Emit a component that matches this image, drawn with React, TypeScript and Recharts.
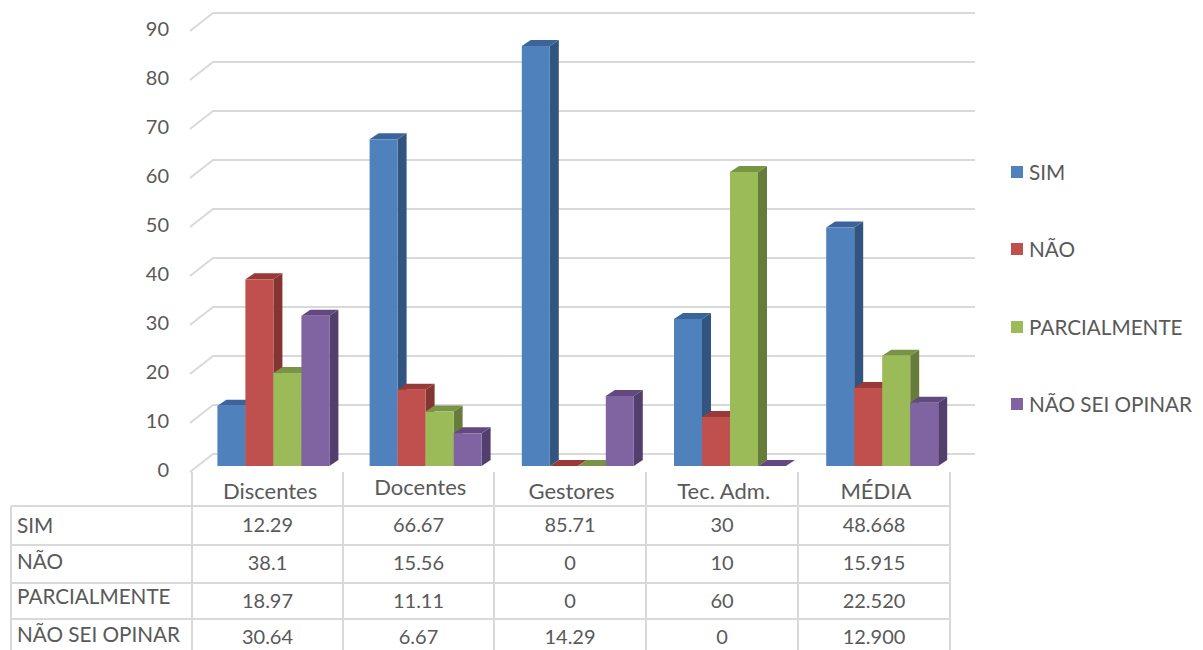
import React from "react";
import { BarChart, Bar, XAxis, YAxis, CartesianGrid, Legend } from "recharts";

const categories = ["Discentes", "Docentes", "Gestores", "Tec. Adm.", "MÉDIA"];
const simLabels = ["12.29", "66.67", "85.71", "30", "48.668"];
const naoLabels = ["38.1", "15.56", "0", "10", "15.915"];
const parcialLabels = ["18.97", "11.11", "0", "60", "22.520"];
const nsoLabels = ["30.64", "6.67", "14.29", "0", "12.900"];
const yTicks = [0, 10, 20, 30, 40, 50, 60, 70, 80, 90];

const seriesNames = ["SIM", "NÃO", "PARCIALMENTE", "NÃO SEI OPINAR"];
const seriesLabels = [simLabels, naoLabels, parcialLabels, nsoLabels];
const fronts = ["#4f81bd", "#c0504d", "#9bbb59", "#8064a2"];
const sides = ["#31557f", "#843533", "#667c3a", "#523f6d"];
const tops = ["#3b659a", "#9a3a38", "#7a9445", "#62497f"];

const chartData = categories.map((name, i) => ({
  name,
  s0: Number(simLabels[i]),
  s1: Number(naoLabels[i]),
  s2: Number(parcialLabels[i]),
  s3: Number(nsoLabels[i]),
}));

const FONT = "Lato, 'Open Sans', sans-serif";
const TEXT = "#595959";
const GRID = "#d9d9d9";
const DX = 9;
const DY = 6;

const bar3d = (idx: number) => (p: any) => {
  const { x, y, width, height } = p;
  const b = y + height;
  return (
    <g>
      <path d={`M${x + width},${y} L${x + width + DX},${y - DY} L${x + width + DX},${b - DY} L${x + width},${b} Z`} fill={sides[idx]} />
      <path d={`M${x},${y} L${x + DX},${y - DY} L${x + width + DX},${y - DY} L${x + width},${y} Z`} fill={tops[idx]} />
      <rect x={x} y={y} width={width} height={height} fill={fronts[idx]} />
    </g>
  );
};

const gridShape = (p: any) => {
  const x1 = Math.min(p.x1, p.x2);
  const x2 = Math.max(p.x1, p.x2);
  const y = p.y1;
  return (
    <path
      key={p.key ?? y}
      d={`M${x1 - 7},${y + 6} L${x1 + 16},${y - 12} L${x2 + 17},${y - 12}`}
      fill="none"
      stroke={GRID}
      strokeWidth={2}
    />
  );
};

const YTick = (p: any) => (
  <text x={169} y={p.y + 11} textAnchor="end" fontFamily={FONT} fontSize={20} fill={TEXT}>
    {p.payload.value}
  </text>
);

const labelShift: Record<string, [number, number]> = {
  Discentes: [-3, 0],
  Docentes: [-5, -4],
  Gestores: [-6, 0],
  "Tec. Adm.": [-6, 0],
  "MÉDIA": [-6, 0],
};

const XTick = (p: any) => {
  const [sx, sy] = labelShift[p.payload.value] || [0, 0];
  return (
    <text x={p.x + sx} y={499 + sy} textAnchor="middle" fontFamily={FONT} fontSize={22} fill={TEXT}>
      {p.payload.value}
    </text>
  );
};

const LegendBody = (p: any) => (
  <div style={{ position: "relative", width: 192, height: 280, fontFamily: FONT, fontSize: 20.7, color: TEXT }}>
    {(p.payload || []).map((e: any, i: number) => (
      <div key={i} style={{ position: "absolute", left: 0, top: 77.3 * i, height: 24, display: "flex", alignItems: "center", whiteSpace: "nowrap" }}>
        <span style={{ width: 12, height: 12, background: e.color, marginRight: 6, display: "inline-block" }} />
        {e.value}
      </div>
    ))}
  </div>
);

const colX = [11, 192, 343, 494, 646, 798, 950];
const rowY = [506, 545, 583, 619, 660];
const nameCenterY = [525, 561, 596, 634];
const valueCenterY = [524, 562, 600, 636];

const cellBorder = `2px solid ${GRID}`;

function DataTable() {
  return (
    <div style={{ position: "absolute", left: 0, top: 0, width: 1203, height: 650, pointerEvents: "none", fontFamily: FONT, fontSize: 20, color: TEXT }}>
      {colX.slice(1).map((x) => (
        <div key={x} style={{ position: "absolute", left: x - 1, top: 472, width: 2, height: 178, background: GRID }} />
      ))}
      <div style={{ position: "absolute", left: colX[0] - 1, top: rowY[0], width: 2, height: 144, background: GRID }} />
      {rowY.slice(0, 4).map((y) => (
        <div key={y} style={{ position: "absolute", left: colX[0], top: y - 1, width: colX[6] - colX[0], height: 2, background: GRID }} />
      ))}
      {seriesNames.map((n, r) => (
        <React.Fragment key={n}>
          <div style={{ position: "absolute", left: 17, top: nameCenterY[r] - 15, height: 30, fontSize: 20.7, display: "flex", alignItems: "center", whiteSpace: "nowrap" }}>{n}</div>
          {seriesLabels[r].map((v, c) => (
            <div key={c} style={{ position: "absolute", left: colX[c + 1], width: colX[c + 2] - colX[c + 1], top: valueCenterY[r] - 15, height: 30, display: "flex", alignItems: "center", justifyContent: "center" }}>{v}</div>
          ))}
        </React.Fragment>
      ))}
    </div>
  );
}

export default function App() {
  return (
    <div style={{ position: "absolute", left: 0, top: 0, width: 1203, height: 650, overflow: "hidden", background: "#fff" }}>
      <BarChart
        width={1203}
        height={650}
        data={chartData}
        margin={{ top: 25, right: 53, bottom: 0, left: 0 }}
        barCategoryGap={20.4}
        barGap={0}
      >
        <CartesianGrid vertical={false} horizontal={gridShape} horizontalValues={yTicks} />
        <XAxis dataKey="name" height={184} axisLine={false} tickLine={false} tick={XTick} interval={0} />
        <YAxis width={197} domain={[0, 90]} ticks={yTicks} axisLine={false} tickLine={false} tick={YTick} interval={0} />
        <Legend
          layout="vertical"
          align="right"
          verticalAlign="top"
          width={192}
          itemSorter={null}
          wrapperStyle={{ top: 160, right: 0 }}
          content={LegendBody}
        />
        {seriesNames.map((n, i) => (
          <Bar key={n} dataKey={`s${i}`} name={n} fill={fronts[i]} shape={bar3d(i)} isAnimationActive={false} />
        ))}
      </BarChart>
      <DataTable />
    </div>
  );
}
